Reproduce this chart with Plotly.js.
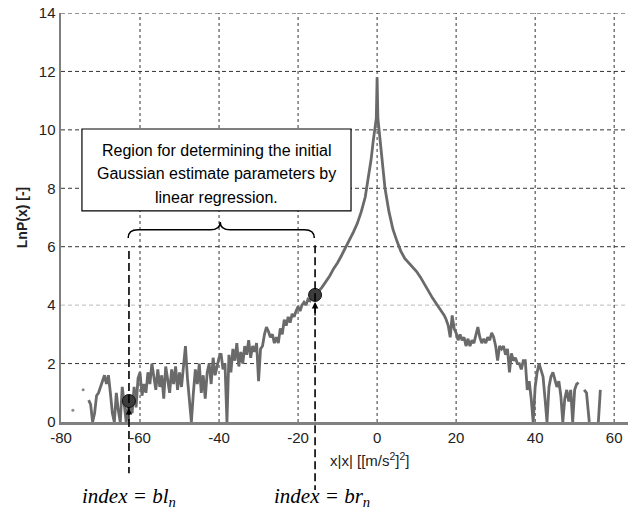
<!DOCTYPE html>
<html>
<head>
<meta charset="utf-8">
<script src="https://cdn.plot.ly/plotly-3.0.1.min.js"></script>
<style>html,body{margin:0;padding:0;background:#fff;}</style>
</head>
<body>
<div id="chart" style="width:634px;height:516px;"></div>
<script>
// ---- data ----
const curveX = [-73,-72.5,-72,-71.5,-71,-70.5,-70,-69.5,-69,-68.5,-68,-67.5,-67,-66.5,-66,-65.5,-65,-64.5,-64,-63.5,-63,-62.5,-62,-61.5,-61,-60.5,-60,-59.5,-59,-58.5,-58,-57.5,-57,-56.5,-56,-55.5,-55,-54.5,-54,-53.5,-53,-52.5,-52,-51.5,-51,-50.5,-50,-49.5,-49,-48.5,-48,-47.5,-47,-46.5,-46,-45.5,-45,-44.5,-44,-43.5,-43,-42.5,-42,-41.5,-41,-40.5,-40,-39.5,-39,-38.5,-38,-37.5,-37,-36.5,-36,-35.5,-35,-34.5,-34,-33.5,-33,-32.5,-32,-31.5,-31,-30.5,-30,-29.5,-29,-28.5,-28,-27.5,-27,-26.5,-26,-25.5,-25,-24.5,-24,-23.5,-23,-22.5,-22,-21.5,-21,-20.5,-20,-19.5,-19,-18.5,-18,-17.5,-17,-16.5,-16,-15.5,-15,-14,-13,-12,-11,-10,-9,-8,-7,-6,-5,-4,-3,-2,-1.5,-1,-0.5,-0.2,0,0.2,0.5,1,1.5,2,3,4,5,6,7,8,9,10,11,12,13,14,15,16,17,17.5,18,18.5,19,19.5,20,20.5,21,21.5,22,22.5,23,23.5,24,24.5,25,25.5,26,26.5,27,27.5,28,28.5,29,29.5,30,30.5,31,31.5,32,32.5,33,33.5,34,34.5,35,35.5,36,36.5,37,37.5,38,38.5,39,39.5,40,40.5,41,41.5,42,42.5,43,43.5,44,44.5,45,45.5,46,46.5,47,47.5,48,48.5,49,49.5,50,50.5,51,51.5,52.4,53,53.7,54,56,56.5,57];
const curveY = [0.75,0.6,0,0.3,0.9,1.0,1.2,1.4,1.6,1.3,1.6,1.0,0.3,0,1.0,0.4,0,1.2,0.6,0,0.6,0.7,0.3,1.2,0.5,1.5,1.7,0.9,1.3,1.0,1.7,1.3,2.0,1.5,1.1,1.8,1.2,1.6,0.8,1.9,1.4,1.0,1.8,1.3,1.9,1.1,1.7,1.2,1.9,2.6,1.5,0.8,0,1.0,1.8,1.3,2.0,1.0,1.6,0.8,1.7,2.0,1.3,2.2,1.6,1.9,2.2,2.35,1.8,2.0,0,2.3,1.7,2.5,2.1,2.7,1.9,2.4,2.0,2.6,2.3,2.8,2.2,2.6,2.4,2.7,1.4,2.5,2.6,3.0,3.25,3.1,2.9,3.0,2.7,2.9,2.7,3.2,3.0,3.5,3.3,3.6,3.4,3.7,3.6,3.8,3.95,3.8,4.0,4.1,4.0,4.2,4.15,4.3,4.35,4.4,4.45,4.6,4.8,5.0,5.25,5.45,5.7,5.95,6.25,6.5,6.8,7.2,7.7,8.5,9.0,9.6,10.1,10.4,11.8,10.4,10.0,9.3,8.7,8.0,7.2,6.6,6.2,5.85,5.6,5.45,5.3,5.15,4.95,4.7,4.45,4.25,4.05,3.85,3.65,3.5,3.3,2.9,3.65,3.2,3.05,2.8,3.0,2.8,2.9,2.6,2.85,2.6,2.8,2.7,3.0,3.25,2.9,2.7,2.85,2.7,2.9,2.8,3.05,2.9,2.6,2.1,2.6,2.5,2.6,2.3,2.5,1.7,2.35,2.1,2.2,2.0,2.0,1.8,2.1,2.1,1.1,1.4,0.8,0,1.2,1.7,2.0,1.8,1.55,0.8,0,1.2,1.55,1.7,1.4,1.2,1.4,0.9,0,0.8,1.1,0.7,1.1,0,1.1,1.3,1.35,null,1.1,1.0,0,null,0,1.1,null];
const strayX = [-77, -74.4];
const strayY = [0.4, 1.1];
const dotX = [-62.8, -15.7];
const dotY = [0.72, 4.35];
const xTicks = [-80,-60,-40,-20,0,20,40,60];
const xTickText = ['-80','-60','-40','-20','0','20','40','60'];
const yTicks = [0,2,4,6,8,10,12,14];
const boxLines = ['Region for determining the initial','Gaussian estimate parameters by','linear regression.'];
const indexLabels = ['<i>index = bl<sub>n</sub></i>','<i>index = br<sub>n</sub></i>'];
const xTitle = 'x|x| [[m/s<sup>2</sup>]<sup>2</sup>]';
const yTitle = '<b>LnP(x) [-]</b>';

// ---- layout helpers ----
const XR = [-80, 63.5], YR = [0, 14];
const toPx = v => (v - XR[0]) / (XR[1] - XR[0]);
const toPy = v => (v - YR[0]) / (YR[1] - YR[0]);
const FONT = 'Liberation Sans, Arial, sans-serif';

const shapes = [];
yTicks.filter(t => t > 0).forEach(t => shapes.push({
  type:'line', xref:'paper', yref:'y', x0:0, x1:1, y0:t, y1:t, layer:'below',
  line:{color: t === 4 ? '#bdbdbd' : '#333333', width:1, dash:'4px,3px'}
}));
xTicks.filter(t => t > XR[0]).forEach(t => shapes.push({
  type:'line', xref:'x', yref:'paper', x0:t, x1:t, y0:0, y1:1, layer:'below',
  line:{color:'#333333', width:1, dash:'3px,3px'}
}));
// text box
shapes.push({type:'rect', xref:'x', yref:'y', x0:-74.7, x1:-6.6, y0:7.23, y1:10.03,
  fillcolor:'#ffffff', line:{color:'#000', width:1.2}, layer:'above'});
// curly brace
shapes.push({type:'path', xref:'x', yref:'y', layer:'above',
  path:'M -63,6.30 Q -63,6.58 -60.5,6.58 L -42.2,6.58 Q -39.7,6.58 -39.7,6.85 Q -39.7,6.58 -37.2,6.58 L -18.4,6.58 Q -15.9,6.58 -15.9,6.30',
  line:{color:'#000', width:1.5}});
// vertical dashed markers
const dashTops = [5.85, 6.05];
const dashBottoms = [-0.125, -0.166];
dotX.forEach((dx, i) => shapes.push({
  type:'line', xref:'paper', yref:'paper', x0:toPx(dx), x1:toPx(dx),
  y0:toPy(dashTops[i]), y1:dashBottoms[i], layer:'above',
  line:{color:'#000', width:1.6, dash:'8px,4px'}
}));

const annotations = [];
const lineY = [9.3, 8.5, 7.68];
boxLines.forEach((t, i) => annotations.push({
  xref:'x', yref:'y', x:-40.65, y:lineY[i], text:t, showarrow:false,
  xanchor:'center', yanchor:'middle', font:{family:FONT, size:16, color:'#000'}
}));
dotX.forEach((dx, i) => annotations.push({
  xref:'x', yref:'y', x:dx, y:dotY[i], text:'', showarrow:true,
  ax:0, ay:22, arrowhead:2, arrowsize:1, arrowwidth:1.3, arrowcolor:'#000', standoff:7
}));
annotations.push({xref:'paper', yref:'paper', x:toPx(-12.3), y:-0.092, text:xTitle,
  showarrow:false, xanchor:'left', yanchor:'middle', font:{family:FONT, size:15, color:'#222'}});
const idxCenters = [-62.8, -14.0];
indexLabels.forEach((t, i) => annotations.push({
  xref:'paper', yref:'paper', x:toPx(idxCenters[i]), y:-0.183, text:t, showarrow:false,
  xanchor:'center', yanchor:'middle', font:{family:'Liberation Serif, Times New Roman, serif', size:21, color:'#000'}
}));

const traces = [
  {x:curveX, y:curveY, type:'scatter', mode:'lines', line:{color:'#6a6a6a', width:2.8, shape:'linear'},
   connectgaps:false, hoverinfo:'skip'},
  {x:strayX, y:strayY, type:'scatter', mode:'markers', marker:{color:'#8a8a8a', size:3}, hoverinfo:'skip'},
  {x:dotX, y:dotY, type:'scatter', mode:'markers', cliponaxis:false,
   marker:{color:'#3c3c3c', size:13, line:{color:'#111', width:1}}, hoverinfo:'skip'}
];

const layout = {
  width:634, height:516, margin:{l:61, r:6, t:13, b:94},
  paper_bgcolor:'#fff', plot_bgcolor:'#fff', showlegend:false,
  xaxis:{range:XR, tickvals:xTicks, ticktext:xTickText, showgrid:false, zeroline:false,
    showline:true, linecolor:'#808080', linewidth:2.5, ticks:'',
    tickfont:{family:FONT, size:15, color:'#222'}},
  yaxis:{range:YR, tickvals:yTicks, showgrid:false, zeroline:false,
    showline:true, linecolor:'#808080', linewidth:2.5, ticks:'',
    tickfont:{family:FONT, size:15, color:'#222'},
    title:{text:yTitle, font:{family:FONT, size:14, color:'#222'}, standoff:8}},
  shapes:shapes, annotations:annotations
};

Plotly.newPlot('chart', traces, layout, {staticPlot:true, displayModeBar:false});
</script>
</body>
</html>
